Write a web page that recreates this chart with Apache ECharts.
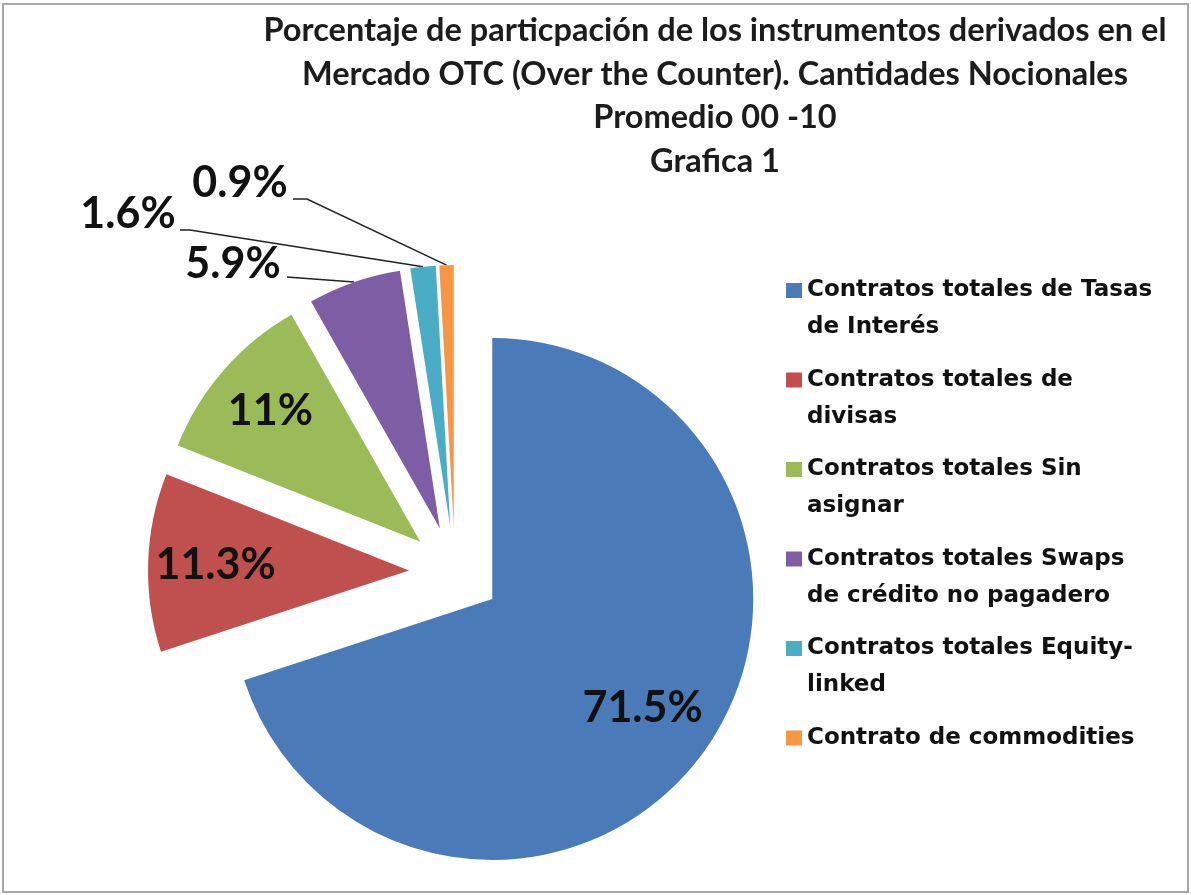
<!DOCTYPE html>
<html>
<head>
<meta charset="utf-8">
<script src="https://cdn.jsdelivr.net/npm/echarts@6/dist/echarts.min.js"></script>
<style>
  html, body { margin: 0; padding: 0; background: #ffffff; }
  #chart { width: 1191px; height: 895px; }
</style>
</head>
<body>
<div id="chart"></div>
<script>
// ---- data ----
const titleLines = [
  'Porcentaje de particpación de los instrumentos derivados en el',
  'Mercado OTC (Over the Counter). Cantidades Nocionales',
  'Promedio 00 -10',
  'Grafica 1'
];
const categories = [
  'Contratos totales de Tasas de Interés',
  'Contratos totales de divisas',
  'Contratos totales Sin asignar',
  'Contratos totales Swaps de crédito no pagadero',
  'Contratos totales Equity-linked',
  'Contrato de commodities'
];
const legendLabels = [
  'Contratos totales de Tasas\nde Interés',
  'Contratos totales de\ndivisas',
  'Contratos totales Sin\nasignar',
  'Contratos totales Swaps\nde crédito no pagadero',
  'Contratos totales Equity-\nlinked',
  'Contrato de commodities\n'
];
const values = [71.5, 11.3, 11, 5.9, 1.6, 0.9];
const colors = ['#4A7AB8', '#C0504D', '#9BBB59', '#7D5DA3', '#4BACC6', '#F79646'];

// ---- layout / style ----
const CX = 455, CY = 572, R = 261, OFF = 46;   // pie centre, radius, explosion distance
const insideLabelRadius = { 0: 0.70, 1: 0.73, 2: 0.75 };   // fraction of R
// outside label text centres and leader-line elbow points
const outsideLabel = {
  3: { pos: [233, 264], line: [[300, 278], [287, 277]] },
  4: { pos: [128, 214], line: [[190, 230], [180, 230]] },
  5: { pos: [240, 183], line: [[307, 199], [293, 199]] }
};

const total = values.reduce((a, b) => a + b, 0);
const midDir = [];
let acc = 0;
values.forEach(v => {
  const mid = (acc + v / 2) / total * 2 * Math.PI;
  midDir.push([Math.sin(mid), -Math.cos(mid)]);
  acc += v;
});

const labelFont = { fontFamily: 'Lato', fontWeight: 'bold', fontSize: 43, color: '#111111' };

// one pie per slice, each drawn with its centre pushed out along the slice's middle angle
const series = categories.map((cat, i) => {
  const isInside = insideLabelRadius[i] != null;
  return {
    type: 'pie',
    name: cat,
    center: [CX + OFF * midDir[i][0], CY + OFF * midDir[i][1]],
    radius: [0, R],
    startAngle: 90,
    clockwise: true,
    silent: true,
    avoidLabelOverlap: false,
    emphasis: { disabled: true },
    itemStyle: { borderWidth: 0 },
    labelLine: { lineStyle: { color: '#222222', width: 1.5 }, smooth: false },
    labelLayout: function (params) {
      if (params.dataIndex !== i) return {};
      if (isInside) {
        const k = R * (insideLabelRadius[i] - 0.5);
        return { dx: midDir[i][0] * k, dy: midDir[i][1] * k };
      }
      const o = outsideLabel[i];
      const arc = [CX + midDir[i][0] * (OFF + R), CY + midDir[i][1] * (OFF + R)];
      return {
        x: o.pos[0],
        y: o.pos[1],
        align: 'center',
        verticalAlign: 'middle',
        labelLinePoints: [arc, o.line[0], o.line[1]]
      };
    },
    data: categories.map((c, j) => ({
      name: c,
      value: values[j],
      itemStyle: { color: j === i ? colors[j] : 'rgba(0,0,0,0)' },
      label: Object.assign({
        show: j === i,
        position: isInside ? 'inside' : 'outside',
        formatter: p => p.value + '%'
      }, labelFont),
      labelLine: { show: j === i && !isInside }
    }))
  };
});

const chart = echarts.init(document.getElementById('chart'), null, { renderer: 'canvas' });

chart.setOption({
  animation: false,
  backgroundColor: '#ffffff',
  title: {
    text: titleLines.join('\n'),
    left: 715,
    top: 9,
    padding: 0,
    textAlign: 'center',
    textStyle: {
      fontFamily: 'Lato',
      fontWeight: 'bold',
      fontSize: 32.5,
      lineHeight: 43.5,
      color: '#1c1c1c'
    }
  },
  legend: {
    orient: 'vertical',
    left: 786,
    top: 272,
    padding: 0,
    itemWidth: 16,
    itemHeight: 52,
    itemGap: 15.5,
    icon: 'path://M0,0H16V15H0Z M0,52H0.001Z',
    selectedMode: false,
    formatter: name => legendLabels[categories.indexOf(name)],
    textStyle: {
      fontFamily: 'DejaVu Sans',
      fontWeight: 'bold',
      fontSize: 23,
      lineHeight: 37,
      color: '#111111'
    },
    data: categories.map((c, i) => ({ name: c, itemStyle: { color: colors[i] } }))
  },
  graphic: [{
    type: 'rect',
    shape: { x: 3, y: 4, width: 1185, height: 888 },
    style: { fill: 'none', stroke: '#a8a8a8', lineWidth: 2 },
    silent: true
  }],
  series: series
});
</script>
</body>
</html>
